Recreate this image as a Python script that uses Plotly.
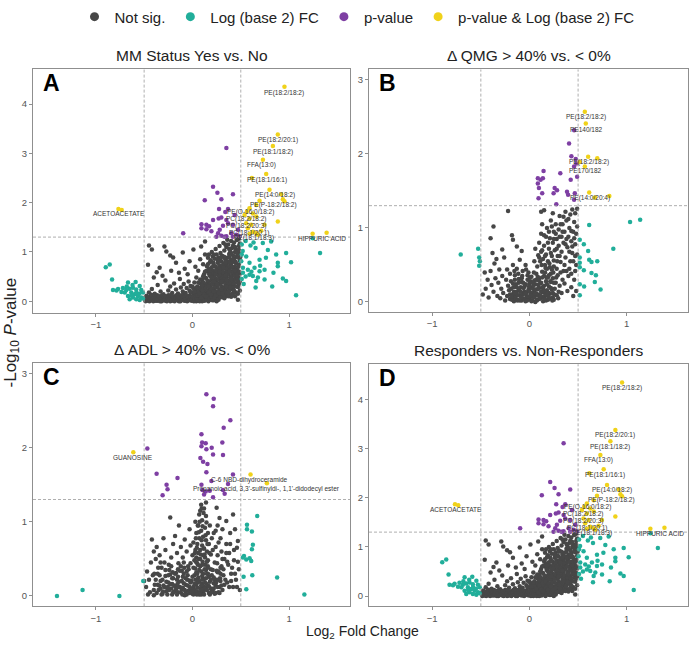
import plotly.graph_objects as go

# ---------------- Panel A / D data (same comparison) ----------------
A_ns = [
(-0.49,0.03),(-0.48,0.09),(-0.46,0.01),(-0.45,0.05),(-0.43,0.11),(-0.42,0.02),(-0.40,0.07),(-0.39,0.04),(-0.37,0.10),(-0.36,0.01),
(-0.34,0.06),(-0.33,0.03),(-0.31,0.09),(-0.30,0.05),(-0.28,0.01),(-0.27,0.07),(-0.25,0.12),(-0.24,0.03),(-0.22,0.08),(-0.21,0.04),
(-0.19,0.01),(-0.18,0.10),(-0.16,0.05),(-0.15,0.07),(-0.13,0.02),(-0.12,0.09),(-0.10,0.04),(-0.09,0.13),(-0.07,0.02),(-0.06,0.08),
(-0.04,0.05),(-0.03,0.11),(-0.01,0.01),(0.00,0.06),(0.02,0.14),(0.03,0.03),(0.05,0.09),(0.06,0.05),(0.08,0.12),(0.09,0.02),
(0.11,0.08),(0.12,0.04),(0.14,0.15),(0.15,0.06),(0.17,0.10),(0.18,0.03),(0.20,0.07),(0.22,0.02),(0.24,0.05),(-0.47,0.06),
(-0.44,0.02),(-0.41,0.09),(-0.38,0.01),(-0.35,0.08),(-0.32,0.00),(-0.29,0.10),(-0.26,0.03),(-0.23,0.00),(-0.20,0.06),(-0.17,0.03),
(-0.14,0.00),(-0.11,0.06),(-0.08,0.01),(-0.05,0.03),(-0.02,0.07),(0.01,0.03),(0.04,0.00),(0.07,0.08),(0.10,0.00),(0.13,0.07),
(-0.45,0.18),(-0.42,0.25),(-0.39,0.15),(-0.36,0.33),(-0.33,0.20),(-0.30,0.14),(-0.28,0.42),(-0.25,0.22),(-0.23,0.30),(-0.21,0.17),
(-0.19,0.36),(-0.17,0.24),(-0.15,0.16),(-0.13,0.45),(-0.12,0.28),(-0.10,0.20),(-0.09,0.35),(-0.07,0.17),(-0.06,0.27),(-0.04,0.40),
(-0.03,0.22),(-0.02,0.31),(0.00,0.18),(0.01,0.26),(0.02,0.38),(0.03,0.21),(0.04,0.48),(0.05,0.30),(0.06,0.16),(0.07,0.24),
(0.08,0.36),(0.09,0.20),(0.10,0.43),(0.11,0.28),(0.12,0.18),(0.12,0.55),(0.13,0.33),(0.14,0.23),
(-0.45,1.13),(-0.42,1.05),(-0.46,0.74),(-0.37,0.59),(-0.34,0.68),(-0.29,1.11),(-0.27,1.01),(-0.23,0.93),(-0.20,0.89),(-0.17,0.78),
(-0.10,0.99),(-0.03,0.81),(0.01,1.05),(0.09,1.11),(0.13,1.21),(-0.40,0.48),(-0.31,0.52),(-0.22,0.62),(-0.14,0.58),(-0.08,0.66),
(-0.05,0.55),(0.03,0.70),(0.06,0.62),(0.08,0.85),(0.11,0.75),(0.13,0.95),
(0.15,0.08),(0.16,0.22),(0.15,0.35),(0.14,0.47),(0.16,0.60),(0.15,0.71),(0.16,0.88),
(0.17,0.12),(0.18,0.27),(0.17,0.40),(0.18,0.52),(0.17,0.66),(0.18,0.79),(0.17,0.95),
(0.19,0.06),(0.20,0.18),(0.19,0.31),(0.20,0.44),(0.19,0.57),(0.20,0.69),(0.19,0.83),(0.20,1.00),
(0.21,0.14),(0.22,0.25),(0.21,0.37),(0.22,0.50),(0.21,0.62),(0.22,0.74),(0.21,0.91),
(0.23,0.09),(0.24,0.20),(0.23,0.33),(0.24,0.46),(0.23,0.58),(0.24,0.70),(0.23,0.86),(0.24,1.06),
(0.25,0.16),(0.26,0.28),(0.25,0.41),(0.26,0.54),(0.25,0.65),(0.26,0.78),(0.25,0.95),
(0.27,0.11),(0.28,0.23),(0.27,0.36),(0.28,0.49),(0.27,0.61),(0.28,0.73),(0.27,0.89),(0.28,1.12),
(0.29,0.19),(0.30,0.30),(0.29,0.43),(0.30,0.56),(0.29,0.68),(0.30,0.81),(0.29,0.98),
(0.31,0.08),(0.32,0.26),(0.31,0.39),(0.32,0.52),(0.31,0.64),(0.32,0.76),(0.31,0.92),(0.32,1.18),
(0.33,0.15),(0.34,0.33),(0.33,0.46),(0.34,0.59),(0.33,0.71),(0.34,0.85),(0.33,1.03),
(0.35,0.21),(0.36,0.37),(0.35,0.50),(0.36,0.62),(0.35,0.75),(0.36,0.88),(0.35,1.10),(0.36,1.25),
(0.37,0.28),(0.38,0.42),(0.37,0.55),(0.38,0.67),(0.37,0.80),(0.38,0.96),(0.37,1.15),
(0.39,0.12),(0.40,0.34),(0.39,0.48),(0.40,0.60),(0.39,0.72),(0.40,0.84),(0.39,1.02),(0.40,1.22),
(0.41,0.25),(0.42,0.40),(0.41,0.53),(0.42,0.66),(0.41,0.79),(0.42,0.93),(0.41,1.08),
(0.43,0.31),(0.44,0.45),(0.43,0.58),(0.44,0.70),(0.43,0.86),(0.44,1.00),(0.43,1.19),
(0.45,0.18),(0.46,0.38),(0.45,0.51),(0.46,0.64),(0.45,0.77),(0.46,0.91),(0.45,1.05),(0.46,1.24),
(0.47,0.29),(0.48,0.47),(0.47,0.61),(0.48,0.74),(0.47,0.89),(0.48,1.12),
(0.49,0.40),(0.49,0.56),(0.49,0.82),(0.49,0.97),(0.49,1.17),(0.48,1.27),(0.47,0.03),(0.44,0.10),
(0.02,0.09),(0.05,0.19),(0.08,0.27),(0.10,0.15),(0.13,0.11),(0.16,0.16),(0.18,0.34),(0.21,0.09),(0.23,0.27),(0.26,0.07),
(0.28,0.35),(0.30,0.13),(0.32,0.20),(0.34,0.10),(0.36,0.15),(0.38,0.22),(0.40,0.09),(0.42,0.17),(0.26,0.44),(0.30,0.48),
(0.34,0.40),(0.38,0.32),(0.22,0.57),(0.27,0.67),(0.31,0.72),(0.36,0.69),(0.40,0.76),(0.33,0.90),(0.38,1.06),(0.42,1.13),
]
A_ns_dense = [
(-0.495,0.06),(-0.485,0.00),(-0.475,0.11),(-0.465,0.04),(-0.455,0.08),(-0.445,0.00),(-0.435,0.06),(-0.425,0.13),(-0.415,0.04),(-0.405,0.00),
(-0.395,0.10),(-0.385,0.06),(-0.375,0.02),(-0.365,0.12),(-0.355,0.04),(-0.345,0.10),(-0.335,0.00),(-0.325,0.06),(-0.315,0.12),(-0.305,0.02),
(-0.295,0.07),(-0.285,0.04),(-0.275,0.10),(-0.265,0.00),(-0.255,0.06),(-0.245,0.09),(-0.235,0.05),(-0.225,0.12),(-0.215,0.01),(-0.205,0.09),
(-0.195,0.05),(-0.185,0.00),(-0.175,0.07),(-0.165,0.12),(-0.155,0.02),(-0.145,0.10),(-0.135,0.05),(-0.125,0.00),(-0.115,0.12),(-0.105,0.07),
(-0.095,0.02),(-0.085,0.09),(-0.075,0.05),(-0.065,0.11),(-0.055,0.00),(-0.045,0.08),(-0.035,0.02),(-0.025,0.05),(-0.015,0.09),(-0.005,0.04),
(0.005,0.10),(0.015,0.00),(0.025,0.06),(0.035,0.11),(0.045,0.04),(0.055,0.02),(0.065,0.12),(0.075,0.00),(0.085,0.06),(0.095,0.10),
(0.105,0.05),(0.115,0.13),(0.125,0.01),(0.135,0.10),(0.145,0.03),(0.155,0.12),(0.165,0.00),(0.175,0.06),(0.185,0.13),(0.195,0.09),
(0.205,0.02),(0.215,0.12),(0.23,0.08),(0.25,0.00),(0.27,0.03),
(0.105,0.22),(0.115,0.38),(0.125,0.48),(0.135,0.27),(0.145,0.62),(0.155,0.42),(0.165,0.30),(0.175,0.55),(0.185,0.20),(0.195,0.48),
(0.205,0.35),(0.215,0.78),(0.225,0.42),(0.235,0.15),(0.245,0.62),(0.255,0.35),(0.265,0.20),(0.275,0.52),(0.285,0.82),(0.295,0.37),
(0.305,0.23),(0.315,0.58),(0.325,0.44),(0.335,0.28),(0.345,0.66),(0.355,0.43),(0.365,0.55),(0.375,0.19),(0.385,0.60),(0.395,0.38),
(0.405,0.50),(0.415,0.70),(0.425,0.35),(0.435,0.52),(0.445,0.80),(0.455,0.58),(0.465,0.45),(0.475,0.70),(0.485,0.60),(0.495,0.90),
(0.20,0.25),(0.22,0.40),(0.24,0.55),(0.26,0.12),(0.28,0.60),(0.30,0.40),(0.32,0.68),(0.34,0.52),(0.36,0.30),(0.38,0.78),
(0.40,0.45),(0.42,0.28),(0.44,0.62),(0.46,0.52),(0.48,0.35),(0.30,0.90),(0.34,0.78),(0.38,0.90),(0.42,0.85),(0.46,0.98),
(0.40,0.98),(0.44,1.10),(0.48,1.04),(0.34,1.15),(0.26,0.85),(0.22,0.95),(0.18,0.62),(0.16,0.75),(0.13,0.60),(0.11,0.50),
(0.10,0.32),(0.08,0.44),(0.06,0.38),(0.04,0.27),(0.02,0.20),(0.00,0.30),(-0.02,0.18),(0.05,0.12),(0.07,0.15),(0.09,0.07),
(0.12,0.13),(0.14,0.09),(0.17,0.18),(0.19,0.14),(0.22,0.20),(0.24,0.12),(0.27,0.17),(0.29,0.08),(0.31,0.16),(0.33,0.06),
(0.35,0.30),(0.37,0.10),(0.39,0.28),(0.41,0.14),(0.43,0.22),(0.45,0.30),(0.47,0.15),(0.49,0.22),
]
A_fc = [
(-0.897,0.69),(-0.856,0.745),(-0.832,0.44),(-0.667,0.38),(-0.588,0.39),(-0.822,0.23),(-0.77,0.25),(-0.72,0.27),(-0.685,0.23),
(-0.65,0.256),(-0.616,0.276),(-0.582,0.24),(-0.546,0.31),(-0.633,0.176),(-0.598,0.142),(-0.564,0.109),(-0.529,0.075),(-0.616,0.075),
(-0.667,0.109),(-0.582,0.041),(-0.546,0.028),(-0.512,0.055),(-0.70,0.176),(-0.65,0.041),(-0.735,0.19),(-0.786,0.22),(-0.512,0.176),
(-0.53,0.23),(-0.62,0.33),(-0.68,0.30),(-0.58,0.18),(-0.55,0.15),(-0.63,0.12),
(0.632,1.19),(0.728,1.18),(0.814,1.21),(0.653,1.08),(0.780,1.04),(0.969,0.98),(0.866,0.95),(0.556,0.91),(0.694,0.84),(0.76,0.88),
(0.505,0.81),(0.59,0.78),(1.02,0.79),(0.883,0.78),(0.522,0.68),(0.573,0.64),(0.642,0.68),(0.694,0.61),(0.746,0.64),(0.838,0.58),
(0.883,0.71),(0.522,0.58),(0.59,0.54),(0.625,0.51),(0.677,0.48),(0.66,0.41),(0.935,0.46),(0.969,0.41),(0.746,0.44),(0.825,0.30),
(0.653,0.28),(1.072,0.12),(1.32,0.98),(1.244,1.28),(0.51,1.15),(0.52,1.02),(0.51,0.45),(0.53,0.35),(0.55,1.22),(0.60,1.13),
(0.51,0.95),(0.55,0.50),(0.61,0.60),(0.70,0.72),
]
A_p = [
(0.351,3.11),(0.213,2.32),(0.258,2.20),(0.127,2.05),(0.299,2.07),(0.419,2.17),(0.275,1.87),(0.368,1.87),(0.340,1.81),(0.436,1.75),
(0.093,1.56),(0.144,1.55),(0.172,1.52),(0.213,1.65),(0.271,1.68),(0.299,1.70),(0.351,1.65),(0.316,1.53),(0.368,1.58),(0.419,1.55),
(0.144,1.46),(0.196,1.42),(0.093,1.48),(0.265,1.38),(0.299,1.33),(0.351,1.32),(0.402,1.38),(0.454,1.35),(0.247,1.31),(0.33,1.31),
(0.419,1.31),(0.488,1.32),(-0.096,1.38),(0.471,1.45),(0.282,1.45),
]
A_both = [
(0.952,4.35),(0.883,3.38),(0.832,3.15),(0.729,2.87),(0.763,2.58),(0.615,2.50),(0.797,2.26),(0.918,2.17),(0.935,2.07),(0.952,2.03),
(0.694,2.04),(0.66,1.95),(0.59,1.885),(0.563,1.82),(0.539,1.75),(0.59,1.68),(0.625,1.78),(0.66,1.72),(0.556,1.58),(0.608,1.55),
(0.573,1.48),(0.625,1.41),(0.66,1.38),(0.59,1.37),(0.677,1.35),(0.711,1.43),(0.745,1.55),(0.883,1.62),(-0.766,1.87),(-0.732,1.85),
(1.243,1.37),(1.388,1.39),
]
A_labels = [
("PE(18:2/18:2)",0.952,4.23,"center"),("PE(18:2/20:1)",0.883,3.28,"center"),("PE(18:1/18:2)",0.832,3.03,"center"),
("FFA(13:0)",0.711,2.77,"center"),("PE(18:1/16:1)",0.773,2.46,"center"),("PE(14:0/18:2)",0.849,2.15,"center"),
("PE(P-18:2/18:2)",0.842,1.95,"center"),("PE(O-16:0/18:2)",0.598,1.81,"center"),("PC(18:2/18:2)",0.55,1.67,"center"),
("PC(18:2/20:3)",0.55,1.53,"center"),("PC(18:1/20:1)",0.59,1.39,"center"),("PE(18:1/18:3)",0.64,1.28,"center"),
("ACETOACETATE",-0.756,1.77,"center"),("HIPPURIC ACID",1.61,1.28,"right"),
]

# ---------------- Panel B data ----------------
B_ns = [
(-0.30,0.05),(-0.27,0.12),(-0.25,0.02),(-0.23,0.08),(-0.21,0.16),(-0.20,0.04),(-0.18,0.10),(-0.16,0.01),(-0.15,0.07),(-0.13,0.14),
(-0.12,0.03),(-0.10,0.09),(-0.09,0.20),(-0.07,0.05),(-0.06,0.12),(-0.04,0.01),(-0.03,0.08),(-0.01,0.17),(0.00,0.04),(0.01,0.11),
(0.03,0.02),(0.04,0.07),(0.05,0.15),(0.06,0.24),(0.08,0.03),(0.09,0.10),(0.10,0.19),(0.11,0.05),(0.13,0.13),(0.14,0.01),
(0.15,0.22),(0.16,0.08),(0.18,0.16),(0.19,0.03),(0.21,0.11),(0.22,0.27),(0.24,0.06),(0.26,0.18),(0.28,0.09),(0.30,0.14),
(-0.22,0.22),(-0.19,0.28),(-0.14,0.24),(-0.11,0.31),(-0.08,0.27),(-0.05,0.21),(-0.02,0.30),(0.00,0.25),(0.02,0.34),(0.03,0.19),
(0.05,0.29),(0.07,0.38),(0.08,0.17),(0.10,0.32),(0.12,0.26),(0.13,0.41),(0.15,0.35),(0.17,0.28),(0.18,0.45),(0.20,0.21),
(0.22,0.38),(0.24,0.32),(0.25,0.48),(0.27,0.26),(0.29,0.36),(0.31,0.22),
(-0.17,0.05),(-0.14,0.09),(-0.08,0.02),(-0.02,0.05),(0.02,0.07),(0.06,0.00),(0.07,0.11),(0.12,0.07),(0.17,0.02),(0.20,0.12),
(0.23,0.17),(0.25,0.03),(-0.11,0.16),(-0.05,0.14),(0.01,0.20),(0.04,0.13),(0.09,0.23),(0.14,0.18),(0.16,0.12),(0.19,0.33),
(-0.48,0.10),(-0.46,0.40),(-0.45,0.18),(-0.43,0.30),(-0.42,0.06),(-0.40,0.42),(-0.39,0.23),(-0.37,0.14),(-0.36,0.52),(-0.35,0.32),
(-0.33,0.08),(-0.32,0.26),(-0.31,0.44),(-0.29,0.18),(-0.28,0.35),(-0.26,0.60),(-0.24,0.30),(-0.23,0.44),(-0.20,0.38),(-0.17,0.50),
(-0.15,0.36),(-0.13,0.45),(-0.10,0.57),(-0.07,0.42),(-0.04,0.50),(-0.01,0.40),
(-0.38,0.66),(-0.28,0.71),(-0.40,0.86),(-0.37,1.02),(-0.22,1.23),(-0.18,0.90),(-0.17,0.84),(-0.13,0.75),(-0.08,0.69),(-0.34,0.58),
(0.05,0.55),(0.06,0.72),(0.08,0.48),(0.09,0.63),(0.10,0.80),(0.11,0.55),(0.12,0.92),(0.12,0.68),(0.13,1.05),(0.14,0.58),
(0.15,0.76),(0.16,0.50),(0.17,0.88),(0.17,0.64),(0.18,1.00),(0.19,0.55),(0.20,0.72),(0.21,0.86),(0.21,0.47),(0.22,1.10),
(0.23,0.62),(0.24,0.80),(0.25,0.95),(0.25,0.56),(0.26,0.70),(0.27,1.05),(0.28,0.85),(0.28,0.45),(0.29,0.62),(0.30,0.98),
(0.30,0.76),(0.31,1.16),(0.32,0.54),(0.33,0.88),(0.33,0.68),(0.34,1.05),(0.35,0.42),(0.35,0.80),(0.36,0.95),(0.37,1.22),
(0.37,0.60),(0.38,1.10),(0.39,0.74),(0.40,0.88),(0.40,0.35),(0.41,1.00),(0.42,1.18),(0.42,0.55),(0.43,0.82),(0.44,1.25),
(0.44,0.66),(0.45,0.95),(0.46,1.08),(0.46,0.30),(0.47,0.78),(0.47,1.20),(0.48,0.50),(0.48,0.92),(0.49,1.26),(0.49,0.64),
(0.12,1.22),(0.15,1.24),(0.24,1.20),(0.36,0.25),(0.39,0.15),(0.43,0.20),(0.45,0.08),(0.33,0.12),(0.48,0.15),
]
B_ns_dense = [
(-0.20,0.10),(-0.19,0.18),(-0.18,0.03),(-0.17,0.25),(-0.16,0.14),(-0.15,0.30),(-0.14,0.04),(-0.13,0.20),(-0.12,0.09),(-0.11,0.26),
(-0.10,0.02),(-0.09,0.14),(-0.08,0.32),(-0.07,0.10),(-0.06,0.19),(-0.05,0.04),(-0.04,0.24),(-0.03,0.13),(-0.02,0.36),(-0.01,0.07),
(0.00,0.15),(0.01,0.28),(0.02,0.01),(0.03,0.12),(0.04,0.22),(0.05,0.06),(0.06,0.17),(0.07,0.30),(0.08,0.09),(0.09,0.18),
(0.10,0.04),(0.11,0.25),(0.12,0.14),(0.13,0.33),(0.14,0.06),(0.15,0.15),(0.16,0.40),(0.17,0.10),(0.18,0.24),(0.19,0.12),
(0.20,0.36),(0.21,0.05),(0.22,0.19),(0.23,0.44),(0.24,0.12),(0.25,0.26),
(-0.185,0.07),(-0.165,0.20),(-0.145,0.12),(-0.125,0.02),(-0.105,0.18),(-0.085,0.06),(-0.065,0.26),(-0.045,0.11),(-0.025,0.02),(-0.005,0.21),
(0.015,0.09),(0.035,0.26),(0.055,0.11),(0.075,0.02),(0.095,0.29),(0.115,0.08),(0.135,0.20),(0.155,0.03),(0.175,0.33),(0.195,0.07),
(0.215,0.28),(0.235,0.02),(0.255,0.10),(0.275,0.33),(0.295,0.05),
(-0.155,0.42),(-0.115,0.38),(-0.075,0.35),(-0.035,0.44),(0.005,0.33),(0.045,0.40),(0.085,0.34),(0.125,0.50),(0.165,0.46),(0.205,0.52),
(0.245,0.40),(0.285,0.55),(0.32,0.40),(0.34,0.30),(0.36,0.50),(0.38,0.42),(0.41,0.45),(0.43,0.38),(0.45,0.55),(0.47,0.42),
(0.10,0.60),(0.13,0.70),(0.16,0.62),(0.19,0.80),(0.22,0.66),(0.25,0.85),(0.28,0.72),(0.31,0.62),(0.34,0.95),(0.37,0.78),
(0.40,1.12),(0.43,0.96),(0.46,0.86),(0.49,1.02),(0.41,0.68),(0.38,0.85),(0.35,1.15),(0.31,0.88),(0.27,0.92),(0.23,1.02),
(0.20,0.95),(0.15,0.90),(0.44,0.75),(0.47,0.62),(0.32,1.05),
]
B_fc = [
(-0.707,0.64),(-0.528,0.72),(-0.517,0.60),(-0.51,0.55),(-0.517,0.49),
(0.614,1.04),(1.034,1.08),(1.138,1.11),(0.862,0.72),(0.517,0.84),(0.559,0.78),(0.603,0.69),(0.517,0.60),(0.614,0.57),(0.638,0.54),
(0.697,0.55),(0.517,0.53),(0.517,0.47),(0.559,0.43),(0.638,0.39),(0.683,0.36),(0.672,0.27),(0.517,0.24),(0.562,0.21),(0.731,0.17),
(0.517,0.09),
]
B_p = [
(0.459,2.32),(0.407,2.14),(0.431,1.97),(0.476,1.93),(0.483,1.87),(0.459,1.83),(0.490,1.69),(0.317,1.74),(0.424,1.65),(0.145,1.77),
(0.138,1.67),(0.114,1.65),(0.086,1.67),(0.086,1.60),(0.097,1.54),(0.131,1.47),(0.093,1.40),(0.259,1.54),(0.283,1.51),(0.248,1.47),
(0.386,1.49),(0.466,1.47),(0.459,1.38),(0.276,1.32),(0.397,1.45),
]
B_both = [
(0.569,2.57),(0.579,2.41),(0.603,1.96),(0.697,1.94),(0.569,1.83),(0.517,1.89),(0.614,1.48),(0.672,1.41),(0.821,1.43),
]
B_labels = [
("PE(18:2/18:2)",0.579,2.50,"center"),("PE140/182",0.586,2.33,"center"),("PE(18:2/18:2)",0.61,1.89,"center"),
("PE170/182",0.576,1.77,"center"),("PE(14:0/20:4)",0.62,1.41,"center"),
]

# ---------------- Panel C data ----------------
C_ns = [
(-0.35,0.08),(-0.33,0.20),(-0.31,0.03),(-0.30,0.14),(-0.28,0.27),(-0.27,0.06),(-0.25,0.18),(-0.24,0.35),(-0.22,0.10),(-0.21,0.02),
(-0.20,0.24),(-0.18,0.13),(-0.17,0.31),(-0.15,0.05),(-0.14,0.19),(-0.12,0.40),(-0.11,0.09),(-0.10,0.26),(-0.08,0.01),(-0.07,0.15),
(-0.06,0.33),(-0.04,0.07),(-0.03,0.21),(-0.02,0.44),(0.00,0.03),(0.01,0.12),(0.02,0.28),(0.03,0.37),(0.04,0.06),(0.05,0.18),
(0.06,0.25),(0.07,0.02),(0.08,0.10),(0.09,0.33),(0.10,0.16),(0.11,0.05),(0.12,0.23),(0.13,0.42),(0.14,0.11),(0.15,0.30),
(0.17,0.04),(0.18,0.19),(0.19,0.36),(0.21,0.08),(0.22,0.25),(0.24,0.14),(0.26,0.32),(0.27,0.05),(0.29,0.20),(0.30,0.40),
(-0.32,0.38),(-0.29,0.45),(-0.26,0.10),(-0.23,0.29),(-0.19,0.06),(-0.16,0.22),(-0.13,0.12),(-0.09,0.17),(-0.05,0.28),(-0.01,0.20),
(0.02,0.08),(0.04,0.15),(0.06,0.05),(0.08,0.40),(0.10,0.27),(0.12,0.08),(0.14,0.35),(0.16,0.14),(0.20,0.28),(0.23,0.03),
(0.25,0.22),(0.28,0.12),(-0.11,0.34),(-0.07,0.06),(-0.03,0.12),(0.01,0.38),(0.05,0.30),(0.09,0.02),(0.13,0.18),(0.17,0.26),
(-0.21,0.16),(-0.15,0.36),(-0.09,0.45),(0.00,0.10),(0.03,0.22),(0.07,0.19),(0.11,0.13),(0.16,0.40),(0.19,0.10),(0.22,0.17),
(-0.50,0.20),(-0.48,0.12),(-0.47,0.33),(-0.45,0.22),(-0.44,0.05),(-0.43,0.45),(-0.42,0.76),(-0.41,0.28),(-0.40,0.60),(-0.39,0.15),
(-0.38,0.50),(-0.37,0.66),(-0.36,0.30),(-0.34,0.55),(-0.30,0.78),(-0.28,0.62),(-0.23,1.06),(-0.22,0.52),(-0.20,0.70),(-0.18,0.81),
(-0.16,0.58),(-0.14,0.95),(-0.12,0.66),(-0.10,0.52),(-0.08,0.76),(-0.06,0.60),(-0.03,0.90),(-0.02,0.68),(-0.46,0.02),(-0.40,0.01),
(-0.33,0.45),
(0.00,0.55),(0.01,0.72),(0.02,0.48),(0.03,0.62),(0.04,0.85),(0.04,0.52),(0.05,0.70),(0.06,0.95),(0.06,0.58),(0.07,1.10),
(0.07,0.78),(0.08,0.62),(0.08,0.50),(0.09,1.23),(0.09,0.88),(0.10,0.68),(0.10,1.02),(0.11,0.55),(0.11,0.80),(0.12,1.18),
(0.12,0.64),(0.13,0.92),(0.13,0.52),(0.14,0.75),(0.14,1.08),(0.15,0.60),(0.16,0.85),(0.16,0.48),(0.17,0.70),(0.18,0.95),
(0.19,0.56),(0.20,0.78),(0.05,0.44),(0.10,0.42),(0.15,0.46),(0.03,1.00),(0.08,1.15),(0.14,1.26),
(0.21,0.62),(0.23,0.45),(0.24,0.88),(0.25,1.19),(0.26,0.55),(0.27,0.72),(0.28,1.05),(0.29,0.38),(0.30,0.60),(0.31,0.90),
(0.32,0.28),(0.33,0.50),(0.35,1.01),(0.35,0.70),(0.36,0.18),(0.37,0.42),(0.38,0.58),(0.40,0.30),(0.42,1.10),(0.42,0.12),
(0.43,0.48),(0.45,0.22),(0.46,0.65),(0.47,0.74),(0.48,0.36),(0.49,0.08),(0.39,0.85),(0.33,0.15),(0.27,0.33),(0.31,0.08),
(0.44,0.90),
]
C_ns_dense = [
(-0.40,0.08),(-0.38,0.22),(-0.37,0.04),(-0.36,0.15),(-0.34,0.28),(-0.33,0.10),(-0.32,0.02),(-0.31,0.22),(-0.29,0.12),(-0.28,0.35),
(-0.27,0.19),(-0.26,0.02),(-0.25,0.28),(-0.24,0.08),(-0.23,0.16),(-0.22,0.40),(-0.21,0.24),(-0.20,0.05),(-0.19,0.14),(-0.18,0.30),
(-0.17,0.09),(-0.16,0.02),(-0.15,0.26),(-0.14,0.12),(-0.13,0.34),(-0.12,0.05),(-0.11,0.20),(-0.10,0.11),(-0.09,0.30),(-0.08,0.08),
(-0.07,0.24),(-0.06,0.02),(-0.05,0.14),(-0.04,0.36),(-0.03,0.04),(-0.02,0.18),(-0.01,0.09),(0.00,0.26),(0.01,0.02),(0.02,0.16),
(0.03,0.06),(0.04,0.32),(0.05,0.11),(0.06,0.20),(0.07,0.35),(0.08,0.05),(0.09,0.14),(0.10,0.22),(0.11,0.30),(0.12,0.02),
(0.13,0.10),(0.14,0.24),(0.15,0.08),(0.16,0.30),(0.17,0.13),(0.18,0.02),(0.19,0.22),(0.20,0.08),(0.21,0.35),(0.22,0.10),
(0.23,0.22),(0.24,0.04),(0.25,0.34),(0.26,0.12),(0.27,0.22),(0.28,0.04),(0.29,0.30),(0.30,0.14),
(-0.395,0.30),(-0.355,0.38),(-0.305,0.06),(-0.255,0.12),(-0.205,0.32),(-0.155,0.16),(-0.105,0.02),(-0.055,0.22),(-0.005,0.06),(0.045,0.02),
(0.095,0.08),(0.145,0.16),(0.195,0.05),(0.245,0.18),(0.285,0.24),(-0.345,0.14),(-0.245,0.42),(-0.145,0.44),(-0.045,0.40),(0.055,0.42),
(0.155,0.38),(0.255,0.44),(0.035,0.46),(-0.085,0.38),(0.125,0.36),(0.105,0.46),(0.065,0.50),(0.025,0.58),(0.085,0.56),(0.115,0.64),
(0.045,0.65),(0.095,0.75),(0.065,0.86),(0.135,0.82),(0.105,0.94),(0.075,1.00),(0.115,1.12),(0.035,0.78),(0.155,0.70),(0.175,0.58),
(0.125,0.56),(0.055,0.95),(0.095,1.18),(0.145,0.99),
(0.32,0.36),(0.34,0.22),(0.36,0.46),(0.38,0.12),(0.40,0.20),(0.41,0.38),(0.44,0.30),(0.46,0.12),(0.47,0.46),(0.35,0.58),
(0.39,0.70),(0.43,0.62),(0.31,0.50),(0.29,0.78),(0.26,0.95),(0.22,0.85),(0.24,0.66),
]
C_fc = [
(-1.402,0.0),(-1.137,0.08),(-0.756,0.0),(-0.509,0.20),
(0.670,1.08),(0.564,0.96),(0.564,0.90),(0.615,0.87),(0.625,0.69),(0.615,0.63),(0.533,0.54),(0.557,0.49),(0.591,0.51),(0.608,0.47),
(0.522,0.52),(0.619,0.28),(0.529,0.26),(0.557,0.09),(0.876,0.25),(1.158,0.02),
]
C_p = [
(0.144,2.72),(0.220,2.66),(0.213,2.56),(0.392,2.37),(0.323,2.27),(0.093,2.18),(0.10,2.07),(0.137,2.06),(0.093,2.02),(0.144,1.98),
(0.199,2.00),(0.213,1.91),(0.309,2.07),(0.316,1.90),(0.082,1.86),(0.11,1.81),(0.155,1.78),(0.144,1.67),(-0.467,1.99),(-0.371,1.65),
(-0.155,1.59),(-0.268,1.50),(-0.258,1.44),(-0.309,1.36),(0.419,1.64),(0.368,1.51),(0.196,1.55),(0.093,1.50),(0.103,1.43),(0.137,1.41),
(0.179,1.42),(0.12,1.37),(0.213,1.33),(0.316,1.43),(0.333,1.38),
]
C_both = [(-0.612,1.94),(0.601,1.64),(0.770,1.52)]
C_labels = [
("GUANOSINE",-0.612,1.87,"center"),("C-6 NBD-dihydroceramide",0.591,1.57,"center"),
("Propanoic acid, 3,3'-sulfinyldi-, 1,1'-didodecyl ester",0.763,1.44,"center"),
]

# ---------------- Panel D (same data as A) ----------------
D_ns, D_ns_dense, D_fc, D_p, D_both, D_labels = A_ns, A_ns_dense, A_fc, A_p, A_both, A_labels

titles = ["MM Status Yes vs. No", "Δ QMG > 40% vs. < 0%", "Δ ADL > 40% vs. < 0%", "Responders vs. Non-Responders"]
letters = ["A", "B", "C", "D"]
y_ticks = [[0, 1, 2, 3, 4], [0, 1, 2, 3], [0, 1, 2, 3], [0, 1, 2, 3, 4]]
y_ranges = [[-0.23, 4.70], [-0.13, 3.14], [-0.14, 3.14], [-0.21, 4.72]]
x_range = [-1.65, 1.63]

cats = ["Not sig.", "Log (base 2) FC", "p-value", "p-value & Log (base 2) FC"]
colors = ["#474747", "#21AE9A", "#7E3FA3", "#F0D21A"]

W, H = 692, 648
# pixel boxes for panels: (left, right, top, bottom)
boxes = [(33, 350, 65, 310), (369, 688, 65, 309), (33, 350, 361, 606), (369, 688, 362, 606)]

data = [
    (A_ns + A_ns_dense, A_fc, A_p, A_both, A_labels),
    (B_ns + B_ns_dense, B_fc, B_p, B_both, B_labels),
    (C_ns + C_ns_dense, C_fc, C_p, C_both, C_labels),
    (D_ns + D_ns_dense, D_fc, D_p, D_both, D_labels),
]

fig = go.Figure()
FONT = "Liberation Sans, Arial, sans-serif"
annotations = []
shapes = []

for i, (groups, box) in enumerate(zip(data, boxes)):
    k = "" if i == 0 else str(i + 1)
    xa, ya = "x" + k, "y" + k
    for g, col in zip(groups[:4], colors):
        fig.add_trace(go.Scatter(
            x=[p[0] for p in g], y=[p[1] for p in g], mode="markers",
            marker=dict(size=4.5, color=col, line=dict(width=0)),
            xaxis=xa, yaxis=ya, showlegend=False, hoverinfo="skip"))
    l, r, t, b = box
    dom_x = [l / W, r / W]
    dom_y = [1 - b / H, 1 - t / H]
    axis_common = dict(showgrid=False, zeroline=False, showline=True, mirror=True,
                       linecolor="#8f8f8f", linewidth=1.3, ticks="outside", ticklen=3,
                       tickcolor="#8f8f8f", tickwidth=1,
                       tickfont=dict(size=9.5, color="#555555", family=FONT))
    fig.layout["xaxis" + k] = dict(domain=dom_x, range=x_range, tickvals=[-1, 0, 1],
                                   anchor=ya, **axis_common)
    fig.layout["yaxis" + k] = dict(domain=dom_y, range=y_ranges[i], tickvals=y_ticks[i],
                                   anchor=xa, **axis_common)
    # threshold lines
    for xv in (-0.5, 0.5):
        shapes.append(dict(type="line", xref=xa, yref=ya + " domain", x0=xv, x1=xv, y0=0, y1=1,
                           line=dict(color="#9a9a9a", width=0.8, dash="3px,2px"), layer="above"))
    shapes.append(dict(type="line", xref=xa + " domain", yref=ya, x0=0, x1=1, y0=1.301, y1=1.301,
                       line=dict(color="#9a9a9a", width=0.8, dash="3px,2px"), layer="above"))
    # point labels
    for txt, lx, ly, anc in groups[4]:
        annotations.append(dict(text=txt, x=lx, y=ly, xref=xa, yref=ya, showarrow=False, xanchor=anc,
                                font=dict(size=6.5, color="#333333", family=FONT)))
    # panel title
    annotations.append(dict(text=titles[i], x=(l + r) / 2 / W, y=1 - (t - 14) / H, xref="paper", yref="paper",
                            showarrow=False, xanchor="center", yanchor="middle",
                            font=dict(size=15.5, color="#222222", family=FONT)))
    # panel letter
    annotations.append(dict(text="<b>" + letters[i] + "</b>", x=(l + 8) / W, y=1 - (t + 14) / H,
                            xref="paper", yref="paper", showarrow=False, xanchor="left", yanchor="middle",
                            font=dict(size=23, color="#000000", family=FONT)))

# legend entries
for name, col in zip(cats, colors):
    fig.add_trace(go.Scatter(x=[None], y=[None], mode="markers", name=name,
                             marker=dict(size=9, color=col), showlegend=True))

annotations.append(dict(text="-Log<sub>10</sub> <i>P</i>-value", x=12 / W, y=1 - 330 / H, xref="paper", yref="paper",
                        showarrow=False, textangle=-90, xanchor="center", yanchor="middle",
                        font=dict(size=17, color="#222222", family=FONT)))
annotations.append(dict(text="Log<sub>2</sub> Fold Change", x=362 / W, y=1 - 632 / H, xref="paper", yref="paper",
                        showarrow=False, xanchor="center", yanchor="middle",
                        font=dict(size=14, color="#222222", family=FONT)))

fig.update_layout(
    width=W, height=H, margin=dict(l=0, r=0, t=0, b=0),
    paper_bgcolor="white", plot_bgcolor="white",
    annotations=annotations, shapes=shapes,
    legend=dict(orientation="h", x=357 / W, xanchor="center", y=1 - 12 / H, yanchor="middle",
                font=dict(size=15, color="#222222", family=FONT), itemwidth=30, bgcolor="rgba(0,0,0,0)"),
    font=dict(family=FONT),
)

fig.write_html("out.html", config={"displayModeBar": False},
               post_script="document.body.style.margin='0px';")
